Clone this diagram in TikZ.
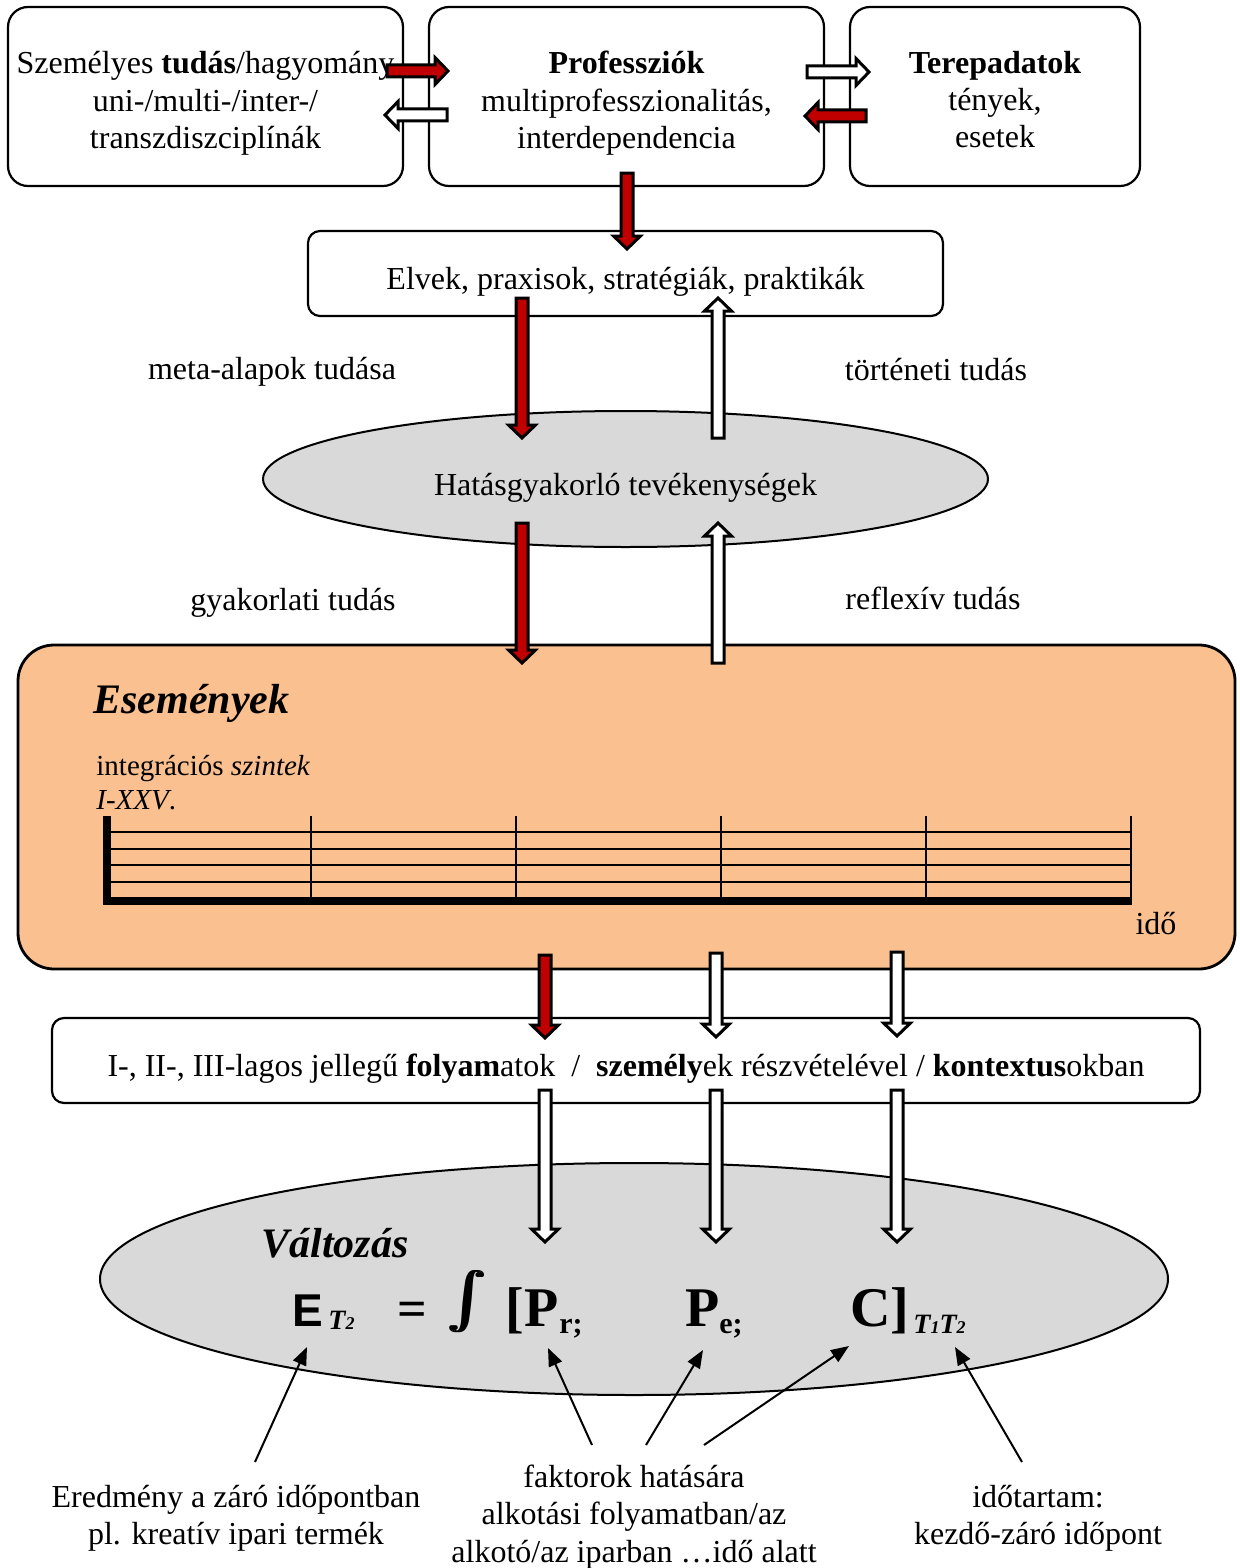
\documentclass[tikz,border=0pt]{standalone}
\usepackage{fontspec}
\usepackage{graphicx}
\setmainfont{Liberation Serif}
\newfontfamily\arialfont{Liberation Sans}
\usetikzlibrary{calc,arrows.meta,shapes.geometric}
\definecolor{arrowred}{HTML}{C00000}
\definecolor{ovalgray}{HTML}{D9D9D9}
\definecolor{eventorange}{HTML}{FAC090}
\newcommand\boldint{\rlap{$\int$}\kern0.35pt\rlap{$\int$}\kern0.35pt$\int$}
\tikzset{
  txt/.style={font=\fontsize{16}{18.7}\selectfont, align=center, inner sep=0pt},
  box/.style={draw, line width=1.1pt, rounded corners=10pt, inner sep=0pt},
  oval/.style={ellipse, draw, line width=1pt, fill=ovalgray, inner sep=0pt},
  blk/.style={draw=black, line width=1.5pt, line join=miter, to path={
    ($(\tikztostart)!3pt!-90:(\tikztotarget)$)
    -- ($(\tikztotarget)!6.5pt!(\tikztostart)!3pt!90:(\tikztostart)$)
    -- ($(\tikztotarget)!6.5pt!(\tikztostart)!6.75pt!90:(\tikztostart)$)
    -- (\tikztotarget)
    -- ($(\tikztotarget)!6.5pt!(\tikztostart)!6.75pt!-90:(\tikztostart)$)
    -- ($(\tikztotarget)!6.5pt!(\tikztostart)!3pt!-90:(\tikztostart)$)
    -- ($(\tikztostart)!3pt!90:(\tikztotarget)$) -- cycle}},
  redblk/.style={blk, fill=arrowred},
  whiteblk/.style={blk, fill=white},
  pointer/.style={-{Triangle[length=9pt,width=7pt]}, line width=1pt},
  formula/.style={anchor=base west, inner sep=0pt, font=\bfseries\fontsize{28}{28}\selectfont},
  subs/.style={anchor=base west, inner sep=0pt, font=\bfseries\fontsize{15}{15}\selectfont},
  levelstxt/.style={anchor=base west, inner sep=0pt, font=\fontsize{14.5}{17}\selectfont},
}
\begin{document}
\begin{tikzpicture}[x=0.5pt, y=-0.5pt]
\useasboundingbox (0,0) rectangle (1239,1568);

% top row
\node[box, minimum width=197.5pt, minimum height=89.5pt] (pers) at (205.5,96.5) {};
\node[txt] (perstxt) at ($(pers)+(0,7)$)
  {Személyes \textbf{tudás}/hagyomány\\uni-/multi-/inter-/\\transzdiszciplínák};
\node[box, minimum width=197.5pt, minimum height=89.5pt] (prof) at (626.5,96.5) {};
\node[txt] (proftxt) at ($(prof)+(0,7)$)
  {\textbf{Professziók}\\multiprofesszionalitás,\\interdependencia};
\node[box, minimum width=145pt, minimum height=89.5pt] (field) at (995,96.5) {};
\node[txt] (fieldtxt) at ($(field)+(0,3)$)
  {\textbf{Terepadatok}\\tények,\\esetek};

\node[box, rounded corners=6pt, minimum width=317.5pt, minimum height=42.5pt] (princ) at (625.5,273.5) {};
\node[txt] (princtxt) at ($(princ)+(0,8)$) {Elvek, praxisok, stratégiák, praktikák};

\node[txt] (meta) at (272,372) {meta-alapok tudása};
\node[txt] (hist) at (936,370) {történeti tudás};

\node[oval, minimum width=362.5pt, minimum height=68pt] (act) at (625.5,479) {};
\node[txt] (acttxt) at ($(act)+(0,9)$) {Hatásgyakorló tevékenységek};

\node[txt] (prac) at (293,603) {gyakorlati tudás};
\node[txt] (refl) at (933,598) {reflexív tudás};

% events
\node[draw, line width=1.4pt, fill=eventorange, rounded corners=18pt,
  minimum width=608.5pt, minimum height=162pt] (events) at (626.5,807) {};
\node[anchor=base west, inner sep=0pt, font=\bfseries\itshape\fontsize{21}{21}\selectfont] (evtitle) at (93,713) {Események};
\node[levelstxt] (levels) at (96,775) {integrációs \textit{szintek}};
\node[levelstxt] (levelnum) at (96,809) {\textit{I-XXV}.};
\foreach \y in {832,849,865,882}
  \draw[line width=0.9pt] (111,\y) -- (1131,\y);
\foreach \x in {311,516,721,926,1131}
  \draw[line width=1pt] (\x,816) -- (\x,900);
\draw[line width=4pt] (107,816) -- (107,901) -- (1132,901);
\node[txt] (time) at (1156,924) {idő};

\node[box, rounded corners=6pt, minimum width=574pt, minimum height=42.5pt] (proc) at (626,1060.5) {};
\node[txt] (proctxt) at ($(proc)+(0,8)$)
  {I-, II-, III-lagos jellegű \textbf{folyam}atok~~/~~\textbf{személy}ek részvételével / \textbf{kontextus}okban};

% change
\node[oval, minimum width=534pt, minimum height=116pt] (change) at (634,1279) {};
\node[anchor=base west, inner sep=0pt, font=\bfseries\itshape\fontsize{21}{21}\selectfont] (chtitle) at (261,1257) {Változás};
\node[anchor=base west, inner sep=0pt, font=\arialfont\bfseries\fontsize{23}{23}\selectfont] (E) at (292,1326) {E};
\node[subs, font=\bfseries\itshape\fontsize{14}{14}\selectfont] (Esub) at (328,1329) {T{\fontsize{9}{9}\selectfont 2}};
\node[formula, font=\bfseries\fontsize{26}{26}\selectfont] (eq) at (397,1326) {=};
\node[inner sep=0pt] (intg) at (467,1302) {\scalebox{2.8}{\boldint}};
\node[formula] (Pr) at (505,1326) {[P};
\node[subs] (Prsub) at (559,1333) {r;};
\node[formula] (Pe) at (685,1326) {P};
\node[subs] (Pesub) at (719,1333) {e;};
\node[formula] (C) at (850,1326) {C]};
\node[subs, font=\bfseries\itshape\fontsize{14}{14}\selectfont] (Tsub) at (913,1333)
  {T{\fontsize{9}{9}\selectfont 1}T{\fontsize{9}{9}\selectfont 2}};

% bottom notes
\node[txt] (res) at (236,1518) {Eredmény a záró időpontban\\pl. kreatív ipari termék};
\node[txt] (fact) at (634,1517) {faktorok hatására\\alkotási folyamatban/az\\alkotó/az iparban …idő alatt};
\node[txt] (dur) at (1038,1518) {időtartam:\\kezdő-záró időpont};

\draw[pointer] (255,1462) -- (307,1347);
\draw[pointer] (592,1445) -- (548,1348);
\draw[pointer] (646,1445) -- (703,1350);
\draw[pointer] (704,1445) -- (849,1346);
\draw[pointer] (1022,1462) -- (955,1347);

% block arrows
\draw[redblk] (387,71) to (448,71);
\draw[whiteblk] (447,115) to (385,115);
\draw[whiteblk] (807,72) to (869,72);
\draw[redblk] (866,116) to (805,116);
\draw[redblk] (627,173) to (627,249);
\draw[redblk] (522,298) to (522,438);
\draw[whiteblk] (718,438) to (718,298);
\draw[redblk] (522,523) to (522,663);
\draw[whiteblk] (718,663) to (718,523);
\draw[redblk] (545,955) to (545,1038);
\draw[whiteblk] (716,953) to (716,1037);
\draw[whiteblk] (897,952) to (897,1036);
\foreach \x in {545,716,897}
  \draw[whiteblk] (\x,1090) to (\x,1242);
\end{tikzpicture}
\end{document}
